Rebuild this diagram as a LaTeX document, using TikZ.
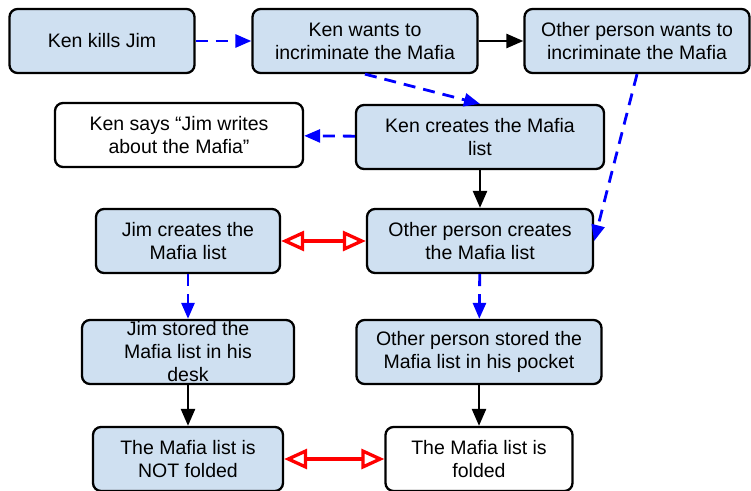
\documentclass[tikz,border=0pt]{standalone}
\usepackage{fontspec}
\setmainfont{Liberation Sans}
\usetikzlibrary{arrows.meta}
\definecolor{evtblue}{HTML}{CFE0F1}
\tikzset{
  evt/.style={draw, line width=2.3pt, rounded corners=8pt, fill=evtblue, align=center, minimum height=64pt, inner sep=2pt, font=\fontsize{19.5}{23}\selectfont},
  cla/.style={evt, fill=white},
  txt/.style={align=center, inner sep=0pt, font=\fontsize{19.5}{23}\selectfont},
  may/.style={-{Triangle[length=16pt,width=13pt]}, blue, line width=2.8pt, dash pattern=on 12pt off 8pt},
  nxt/.style={-{Triangle[length=17pt,width=14pt]}, line width=2.5pt},
  con/.style={{Triangle[open,length=23pt,width=20pt]}-{Triangle[open,length=23pt,width=20pt]}, red, line width=3.3pt}
}

\begin{document}
\begin{tikzpicture}[x=1pt, y=-1pt]
	\useasboundingbox (0,0) rectangle (751,490);
	% top row
	\node[evt, minimum width=185pt] (kill) at (102,41) {Ken kills Jim};
	\node[evt, minimum width=225pt] (kenwant) at (365,41) {Ken wants to\\incriminate the Mafia};
	\node[evt, minimum width=225pt] (othwant) at (637,41) {Other person wants to\\incriminate the Mafia};
	% the list
	\node[cla, minimum width=248pt] (says) at (179,135) {Ken says “Jim writes\\about the Mafia”};
	\node[evt, minimum width=248pt] (kenlist) at (480,137) {Ken creates the Mafia\\list};
	\node[evt, minimum width=184pt] (jimlist) at (188,241) {Jim creates the\\Mafia list};
	\node[evt, minimum width=226pt] (othlist) at (480,241) {Other person creates\\the Mafia list};
	% where it was kept
	\node[evt, minimum width=212pt] (jimdesk) at (188,352) {};
	\node[txt] (jimdesktxt) at (jimdesk) {Jim stored the\\Mafia list in his\\desk};
	\node[evt, minimum width=245pt] (othpocket) at (479,352) {Other person stored the\\Mafia list in his pocket};
	\node[evt, minimum width=190pt] (notfold) at (188,459) {The Mafia list is\\NOT folded};
	\node[cla, minimum width=187pt] (fold) at (479,459) {The Mafia list is\\folded};
	% links
	\draw[may] (kill) -- (kenwant);
	\draw[nxt] (kenwant) -- (othwant);
	\draw[may] (kenwant.south) -- (kenlist.north);
	\draw[may] (othwant.south) -- (othlist.east);
	\draw[may] (kenlist) -- (says);
	\draw[nxt] (kenlist) -- (othlist);
	\draw[con] (jimlist) -- (othlist);
	\draw[may] (jimlist) -- (jimdesk);
	\draw[may] (othlist) -- (othpocket);
	\draw[nxt] (jimdesk) -- (notfold);
	\draw[nxt] (othpocket) -- (fold);
	\draw[con] (notfold) -- (fold);
\end{tikzpicture}
\end{document}
